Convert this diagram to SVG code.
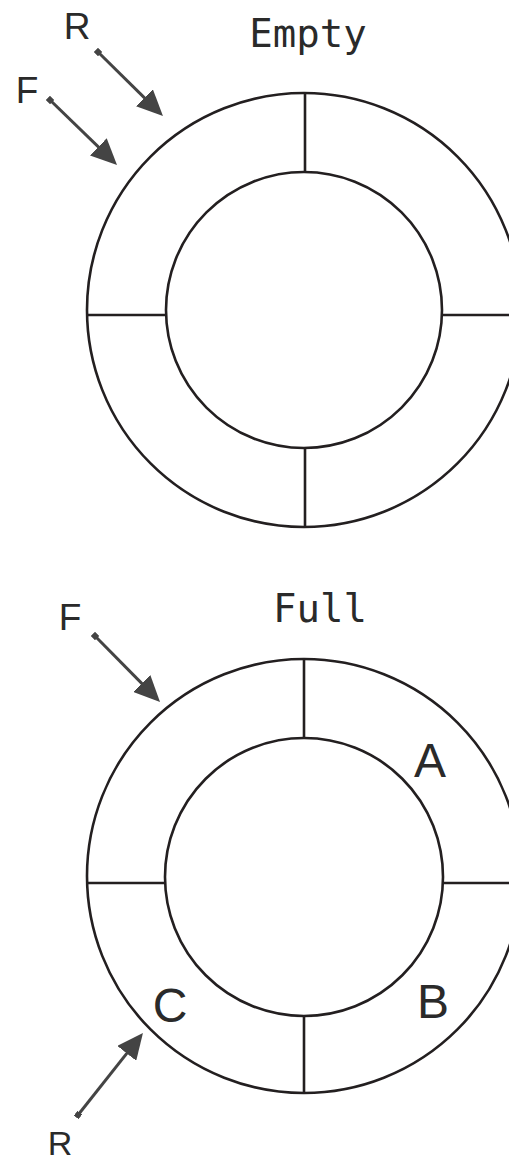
<svg xmlns="http://www.w3.org/2000/svg" width="509" height="1162" viewBox="0 0 509 1162">
  <style>
    .ring { fill: none; stroke: #231f20; stroke-width: 2.6; }
    .div { stroke: #231f20; stroke-width: 2.6; }
    .arr { stroke: #444; stroke-width: 3; marker-start: url(#dot); marker-end: url(#head); }
    .mono { font-family: "DejaVu Sans Mono", "Liberation Mono", monospace; font-size: 39px; fill: #2a2a2a; }
    .lbl { font-family: "Liberation Sans", "Open Sans", sans-serif; font-size: 37px; fill: #2a2a2a; text-anchor: middle; }
    .big { font-size: 48px; }
  </style>
  <defs>
    <marker id="head" markerUnits="userSpaceOnUse" viewBox="0 0 26 24" markerWidth="26" markerHeight="24" refX="14" refY="12" orient="auto">
      <path d="M0,0 L26,12 L0,24 z" fill="#444"/>
    </marker>
    <marker id="dot" markerUnits="userSpaceOnUse" viewBox="0 0 6 6" markerWidth="6" markerHeight="6" refX="3" refY="3" orient="auto">
      <rect x="0" y="0" width="6" height="6" fill="#444"/>
    </marker>
  </defs>

  <g id="empty-buffer">
    <text class="mono" x="308" y="47" text-anchor="middle">Empty</text>
    <circle class="ring" cx="304" cy="310" r="217"/>
    <circle class="ring" cx="304" cy="310" r="138"/>
    <line class="div" x1="305" y1="93" x2="305" y2="172"/>
    <line class="div" x1="305" y1="448" x2="305" y2="527"/>
    <line class="div" x1="87" y1="315" x2="166" y2="315"/>
    <line class="div" x1="442" y1="315" x2="509" y2="315"/>
    <text class="lbl" x="77" y="39">R</text>
    <text class="lbl" x="27" y="103">F</text>
  </g>

  <g id="full-buffer">
    <text class="mono" x="320" y="622" text-anchor="middle">Full</text>
    <circle class="ring" cx="304" cy="876" r="217"/>
    <circle class="ring" cx="304" cy="877" r="139"/>
    <line class="div" x1="304" y1="659" x2="304" y2="738"/>
    <line class="div" x1="304" y1="1016" x2="304" y2="1093"/>
    <line class="div" x1="87" y1="883" x2="166" y2="883"/>
    <line class="div" x1="442" y1="883" x2="509" y2="883"/>
    <text class="lbl big" x="430" y="777">A</text>
    <text class="lbl big" x="433" y="1018">B</text>
    <text class="lbl big" x="170" y="1022">C</text>
    <text class="lbl" x="70" y="630">F</text>
    <text class="lbl" x="60" y="1155" style="font-size:34px">R</text>
  </g>

  <g id="connectors">
    <line class="arr" x1="98" y1="52" x2="154.4" y2="107.6"/>
    <line class="arr" x1="50" y1="100" x2="108.4" y2="156.6"/>
    <line class="arr" x1="95" y1="636" x2="151.6" y2="693.4"/>
    <line class="arr" x1="78" y1="1115" x2="135.5" y2="1042.4"/>
  </g>
</svg>
